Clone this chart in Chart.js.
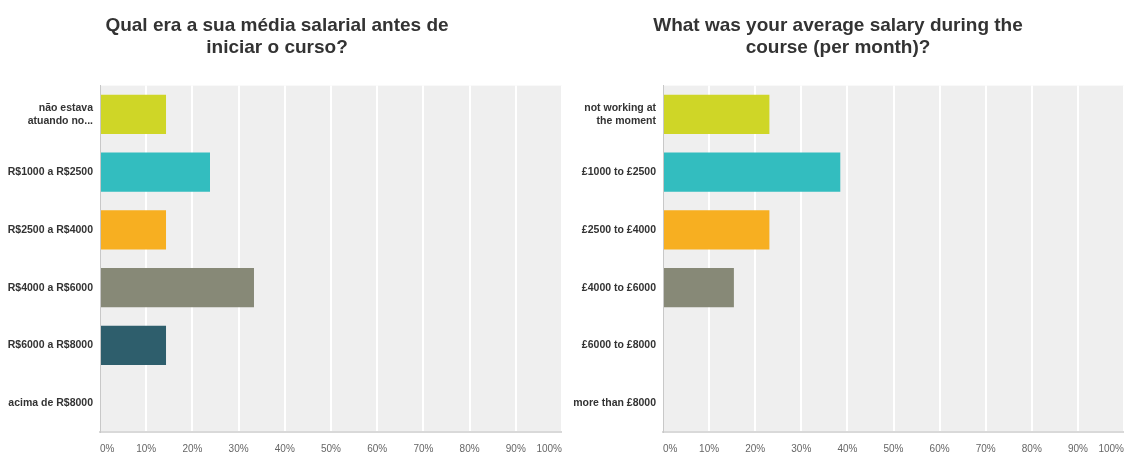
<!DOCTYPE html>
<html>
<head>
<meta charset="utf-8">
<script src="https://cdn.jsdelivr.net/npm/chart.js@4/dist/chart.umd.min.js"></script>
<style>
    html, body { margin: 0; padding: 0; background: #fff; overflow: hidden; }
    .wrap { position: absolute; top: 0; height: 453px; }
    #leftWrap { left: -8px; width: 570px; }
    #rightWrap { left: 552px; width: 572px; }
</style>
</head>
<body>
<div class="wrap" id="leftWrap"><canvas id="leftChart"></canvas></div>
<div class="wrap" id="rightWrap"><canvas id="rightChart"></canvas></div>
<script>
// 데이터
const leftTitle = ['Qual era a sua média salarial antes de', 'iniciar o curso?'];
const leftLabels = [['não estava', 'atuando no...'], 'R$1000 a R$2500', 'R$2500 a R$4000', 'R$4000 a R$6000', 'R$6000 a R$8000', 'acima de R$8000'];
const leftValues = [14.29, 23.81, 14.29, 33.33, 14.29, 0];

const rightTitle = ['What was your average salary during the', 'course (per month)?'];
const rightLabels = [['not working at', 'the moment'], '£1000 to £2500', '£2500 to £4000', '£4000 to £6000', '£6000 to £8000', 'more than £8000'];
const rightValues = [23.08, 38.46, 23.08, 15.38, 0, 0];

const barColors = ['#cfd627', '#33bdbf', '#f7af21', '#878977', '#2e5e6c', '#3b8aa3'];
const xTickStep = 10;

// 플롯 배경 (회색)
const plotBg = {
    id: 'plotBg',
    beforeDraw(chart) {
        const a = chart.chartArea;
        const ctx = chart.ctx;
        ctx.save();
        ctx.fillStyle = '#efefef';
        ctx.fillRect(a.left, a.top, a.right - a.left, a.bottom - a.top);
        ctx.restore();
    }
};

function makeChart(id, title, labels, values, axisWidth) {
    const ctx = document.getElementById(id).getContext('2d');
    return new Chart(ctx, {
        type: 'bar',
        data: {
            labels: labels,
            datasets: [{
                data: values,
                backgroundColor: barColors,
                borderWidth: 0,
                categoryPercentage: 1,
                barPercentage: 0.68
            }]
        },
        plugins: [plotBg],
        options: {
            indexAxis: 'y',
            responsive: true,
            maintainAspectRatio: false,
            animation: false,
            layout: { padding: 0 },
            plugins: {
                legend: { display: false },
                tooltip: { enabled: false },
                title: {
                    display: true,
                    text: title,
                    color: '#333',
                    font: { family: 'Arial, "Liberation Sans", sans-serif', size: 19, weight: 'bold', lineHeight: 1.2 },
                    padding: { top: 14, bottom: 26 }
                }
            },
            scales: {
                x: {
                    min: 0,
                    max: 100,
                    grid: { color: '#ffffff', lineWidth: 2, drawTicks: false },
                    border: { display: true, color: '#d9d9d9', width: 2 },
                    ticks: {
                        stepSize: xTickStep,
                        align: 'inner',
                        padding: 11,
                        color: '#666',
                        font: { family: 'Arial, "Liberation Sans", sans-serif', size: 10 },
                        callback: v => v + '%'
                    },
                    afterFit: scale => {
                        scale.height = 21;
                        scale.paddingLeft = 0;
                        scale.paddingRight = 0;
                    }
                },
                y: {
                    grid: { display: false, drawTicks: false },
                    border: { display: true, color: '#c8c8c8', width: 1 },
                    ticks: {
                        padding: 7,
                        color: '#333',
                        font: { family: 'Arial, "Liberation Sans", sans-serif', size: 10.5, weight: 'bold', lineHeight: 1.25 }
                    },
                    afterFit: scale => {
                        scale.width = axisWidth;
                        scale.paddingTop = 0;
                        scale.paddingBottom = 0;
                    }
                }
            }
        }
    });
}

makeChart('leftChart', leftTitle, leftLabels, leftValues, 108);
makeChart('rightChart', rightTitle, rightLabels, rightValues, 111);
</script>
</body>
</html>
